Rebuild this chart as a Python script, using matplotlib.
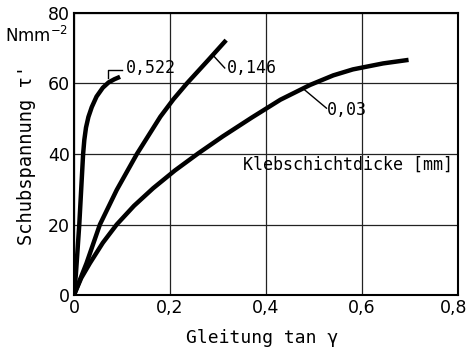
import numpy as np
import matplotlib
matplotlib.use("Agg")
import matplotlib.pyplot as plt
from matplotlib.transforms import ScaledTranslation

# Klebschichtdicke 0,522 mm
g_522 = [0, 0.004, 0.007, 0.011, 0.015, 0.019, 0.0215, 0.025, 0.03, 0.037, 0.047,
         0.06, 0.072, 0.084, 0.096]
t_522 = [0, 6, 12, 20, 30, 40, 44, 47.5, 50.5, 53.3, 56.3, 58.8, 60.3, 61.2, 61.9]
# Klebschichtdicke 0,146 mm
g_146 = [0, 0.01, 0.026, 0.054, 0.089, 0.131, 0.18, 0.207, 0.235, 0.28, 0.317]
t_146 = [0, 3.5, 9, 20, 29.8, 40, 50.6, 55.5, 60, 66.7, 72.3]
# Klebschichtdicke 0,03 mm
g_03 = [0, 0.015, 0.033, 0.06, 0.089, 0.125, 0.165, 0.21, 0.259, 0.31, 0.37, 0.43,
        0.492, 0.54, 0.581, 0.644, 0.697]
t_03 = [0, 4.8, 9, 14.8, 20, 25.3, 30.3, 35.3, 40.2, 45, 50.3, 55.4, 59.6, 62.3,
        64, 65.7, 66.7]

xticks = [0, 0.2, 0.4, 0.6, 0.8]
yticks = [0, 20, 40, 60, 80]

mono = "DejaVu Sans Mono"

fig = plt.figure(figsize=(4.7, 3.5), dpi=100)
ax = fig.add_axes([74/470, 1-295/350, (458-74)/470, (295-13)/350])

ax.set_xlim(0, 0.8)
ax.set_ylim(0, 80)
ax.set_xticks(xticks)
ax.set_yticks(yticks)
ax.set_xticklabels([f"{v:g}".replace(".", ",") for v in xticks])
ax.set_yticklabels([f"{v:g}" for v in yticks])
ax.tick_params(length=0, labelsize=12.5, pad=3)
ax.grid(True, color="#222222", linewidth=0.9)
for s in ax.spines.values():
    s.set_linewidth(1.5)

# letzte Beschriftung etwas nach links, damit sie nicht abgeschnitten wird
lab = ax.get_xticklabels()[-1]
lab.set_transform(lab.get_transform() + ScaledTranslation(-3/72, 0, fig.dpi_scale_trans))

for g, t in [(g_522, t_522), (g_146, t_146), (g_03, t_03)]:
    ax.plot(g, t, color="black", linewidth=3.2, solid_joinstyle="round",
            solid_capstyle="butt")

# Beschriftung der Kurven
ax.plot([0.0716, 0.0716, 0.1006], [61.6, 63.8, 63.8], color="black", lw=1.0)
ax.text(0.109, 64.4, "0,522", fontsize=12, family=mono, va="center")
ax.plot([0.289, 0.314], [68.1, 64.4], color="black", lw=1.0)
ax.text(0.318, 64.4, "0,146", fontsize=12, family=mono, va="center")
ax.plot([0.476, 0.526], [58.7, 53.0], color="black", lw=1.0)
ax.text(0.527, 52.5, "0,03", fontsize=12, family=mono, va="center")
ax.text(0.352, 36.9, "Klebschichtdicke [mm]", fontsize=12, family=mono, va="center")

fig.text(68/470, 1-36/350, "Nmm$^{-2}$", fontsize=12, ha="right", va="center")
fig.text(262/470, 1-343/350, "Gleitung tan γ", fontsize=13, family=mono,
         ha="center", va="baseline")
fig.text(27/470, 1-155/350, "Schubspannung τ'", fontsize=13.5, family=mono,
         ha="center", va="center", rotation=90)

fig.savefig("out.png", dpi=100)
